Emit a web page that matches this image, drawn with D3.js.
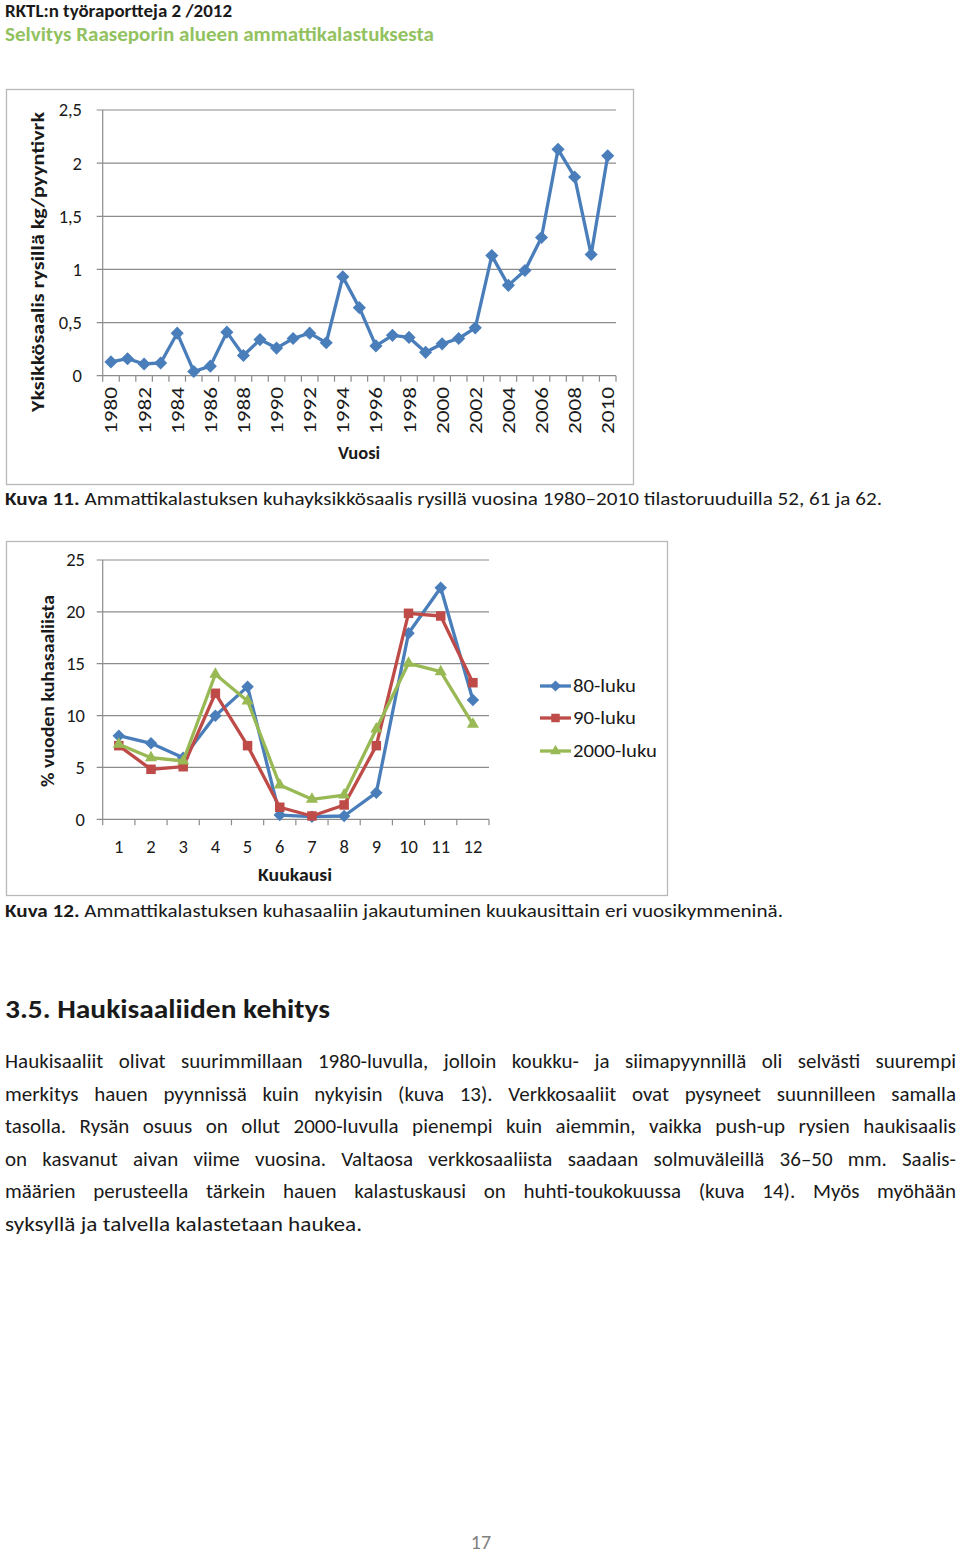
<!DOCTYPE html>
<html><head><meta charset="utf-8">
<script src="https://cdn.jsdelivr.net/npm/d3@7"></script>
<style>
body{margin:0;background:#fff;}
svg{display:block;font-family:Carlito,Calibri,Lato,"Open Sans",sans-serif;}
</style></head>
<body>
<svg id="page" width="960" height="1556"></svg>
<script>
// ---- Data ----
const years = [1980,1981,1982,1983,1984,1985,1986,1987,1988,1989,1990,1991,1992,1993,1994,1995,1996,1997,1998,1999,2000,2001,2002,2003,2004,2005,2006,2007,2008,2009,2010];
const cpue = [0.13,0.16,0.11,0.12,0.40,0.04,0.09,0.41,0.19,0.34,0.26,0.35,0.40,0.31,0.93,0.64,0.28,0.38,0.36,0.22,0.30,0.35,0.45,1.13,0.85,0.99,1.30,2.13,1.87,1.14,2.07];
const yearLabels = [1980,1982,1984,1986,1988,1990,1992,1994,1996,1998,2000,2002,2004,2006,2008,2010];
const cpueTicks = [0,0.5,1,1.5,2,2.5];

const months = [1,2,3,4,5,6,7,8,9,10,11,12];
const decadeNames = ["80-luku","90-luku","2000-luku"];
const share80 = [8.06,7.33,5.94,9.99,12.79,0.41,0.25,0.32,2.57,17.94,22.33,11.5];
const share90 = [7.10,4.82,5.07,12.15,7.10,1.16,0.32,1.38,7.10,19.86,19.6,13.17];
const share00 = [7.23,5.94,5.62,13.98,11.41,3.31,1.93,2.34,8.71,15.04,14.23,9.16];
const shareTicks = [0,5,10,15,20,25];

const paragraph = [
 "Haukisaaliit olivat suurimmillaan 1980-luvulla, jolloin koukku- ja siimapyynnillä oli selvästi suurempi",
 "merkitys hauen pyynnissä kuin nykyisin (kuva 13). Verkkosaaliit ovat pysyneet suunnilleen samalla",
 "tasolla. Rysän osuus on ollut 2000-luvulla pienempi kuin aiemmin, vaikka push-up rysien haukisaalis",
 "on kasvanut aivan viime vuosina. Valtaosa verkkosaaliista saadaan solmuväleillä 36–50 mm. Saalis-",
 "määrien perusteella tärkein hauen kalastuskausi on huhti-toukokuussa (kuva 14). Myös myöhään",
 "syksyllä ja talvella kalastetaan haukea."
];

// ---- Styles ----
const BLUE="#4A7EBB", RED="#BE4B48", GREEN="#98B954", GRID="#8c8c8c", FRAME="#b8b8b8", TXT="#1a1a1a";
const loc = d3.formatLocale({decimal:",",thousands:" ",grouping:[3],currency:["","€"]});
const fmt = loc.format("~g");

const svg = d3.select("#page");

// header
svg.append("text").attr("x",5).attr("y",17).attr("font-size",17).attr("font-weight","bold").attr("fill",TXT)
  .attr("textLength",227).attr("lengthAdjust","spacingAndGlyphs").text("RKTL:n työraportteja 2 /2012");
svg.append("text").attr("x",5).attr("y",41).attr("font-size",19.5).attr("font-weight","bold").attr("fill","#92C25F")
  .attr("textLength",429).attr("lengthAdjust","spacingAndGlyphs").text("Selvitys Raaseporin alueen ammattikalastuksesta");

function drawAxes(g, x, y, ticks, x0, x1, y0) {
  g.selectAll(".grid").data(ticks).join("line")
    .attr("x1",x0-6).attr("x2",x1).attr("y1",d=>y(d)).attr("y2",d=>y(d))
    .attr("stroke",GRID).attr("stroke-width",1.2);
  g.append("line").attr("x1",x0).attr("x2",x0).attr("y1",y(ticks[ticks.length-1])).attr("y2",y0)
    .attr("stroke",GRID).attr("stroke-width",1.2);
  const bounds = x.domain().map(d=>x(d)).concat([x.range()[1]]);
  g.selectAll(".xt").data(bounds).join("line")
    .attr("x1",d=>d).attr("x2",d=>d).attr("y1",y0).attr("y2",y0+6)
    .attr("stroke",GRID).attr("stroke-width",1.2);
}

// ---------- Chart 1 ----------
svg.append("rect").attr("x",6.5).attr("y",89.5).attr("width",627).attr("height",395)
  .attr("fill","none").attr("stroke",FRAME).attr("stroke-width",1.3);
const c1 = svg.append("g");
const x1 = d3.scaleBand().domain(years).range([102.7,616]);
const y1 = d3.scaleLinear().domain([0,2.5]).range([375.7,110]);
drawAxes(c1, x1, y1, cpueTicks, 102.7, 616, 375.7);
c1.selectAll(".yl").data(cpueTicks).join("text")
  .attr("x",82).attr("y",d=>y1(d)).attr("dy","0.35em").attr("text-anchor","end")
  .attr("font-size",18.5).attr("fill",TXT).text(d=>fmt(d));
c1.selectAll(".xl").data(yearLabels).join("text")
  .attr("transform",d=>`translate(${x1(d)+x1.bandwidth()/2},387) rotate(-90)`)
  .attr("dy","0.35em").attr("text-anchor","end").attr("font-size",18.5).attr("fill",TXT)
  .attr("textLength",47).attr("lengthAdjust","spacingAndGlyphs").text(d=>d);
c1.append("text").attr("x",359).attr("y",459).attr("text-anchor","middle").attr("font-size",18.5)
  .attr("font-weight","bold").attr("fill",TXT).text("Vuosi");
c1.append("text").attr("transform","translate(38,262) rotate(-90)").attr("dy","0.35em")
  .attr("text-anchor","middle").attr("font-size",18.5).attr("font-weight","bold").attr("fill",TXT)
  .attr("textLength",300).attr("lengthAdjust","spacingAndGlyphs").text("Yksikkösaalis rysillä kg/pyyntivrk");
const line1 = d3.line().x((d,i)=>x1(years[i])+x1.bandwidth()/2).y(d=>y1(d));
c1.append("path").datum(cpue).attr("d",line1).attr("fill","none").attr("stroke",BLUE)
  .attr("stroke-width",3.3).attr("stroke-linejoin","round");
c1.selectAll(".m").data(cpue).join("path")
  .attr("transform",(d,i)=>`translate(${x1(years[i])+x1.bandwidth()/2},${y1(d)})`)
  .attr("d",d3.symbol(d3.symbolDiamond2,110)).attr("fill",BLUE).attr("stroke","none");

// caption 1
const cap1 = svg.append("text").attr("x",5).attr("y",505).attr("font-size",18.5).attr("fill",TXT)
  .attr("textLength",877).attr("lengthAdjust","spacingAndGlyphs");
cap1.append("tspan").attr("font-weight","bold").text("Kuva 11.");
cap1.append("tspan").text(" Ammattikalastuksen kuhayksikkösaalis rysillä vuosina 1980–2010 tilastoruuduilla 52, 61 ja 62.");

// ---------- Chart 2 ----------
svg.append("rect").attr("x",6.5).attr("y",541.5).attr("width",661).attr("height",354)
  .attr("fill","none").attr("stroke",FRAME).attr("stroke-width",1.3);
const c2 = svg.append("g");
const x2 = d3.scaleBand().domain(months).range([102.7,489]);
const y2 = d3.scaleLinear().domain([0,25]).range([819.3,560]);
drawAxes(c2, x2, y2, shareTicks, 102.7, 489, 819.3);
c2.selectAll(".yl").data(shareTicks).join("text")
  .attr("x",85).attr("y",d=>y2(d)).attr("dy","0.35em").attr("text-anchor","end")
  .attr("font-size",18.5).attr("fill",TXT).text(d=>fmt(d));
c2.selectAll(".xl").data(months).join("text")
  .attr("x",d=>x2(d)+x2.bandwidth()/2).attr("y",853).attr("text-anchor","middle")
  .attr("font-size",18.5).attr("fill",TXT).text(d=>d);
c2.append("text").attr("x",295).attr("y",881).attr("text-anchor","middle").attr("font-size",18.5)
  .attr("font-weight","bold").attr("fill",TXT).attr("textLength",74).attr("lengthAdjust","spacingAndGlyphs").text("Kuukausi");
c2.append("text").attr("transform","translate(48,691) rotate(-90)").attr("dy","0.35em")
  .attr("text-anchor","middle").attr("font-size",18.5).attr("font-weight","bold").attr("fill",TXT)
  .attr("textLength",192).attr("lengthAdjust","spacingAndGlyphs").text("% vuoden kuhasaaliista");

const series = [
  {name:decadeNames[0], values:share80, color:BLUE, sym:d3.symbolDiamond2, size:100},
  {name:decadeNames[1], values:share90, color:RED, sym:d3.symbolSquare2, size:115},
  {name:decadeNames[2], values:share00, color:GREEN, sym:d3.symbolTriangle2, size:105}
];
const line2 = d3.line().x((d,i)=>x2(months[i])+x2.bandwidth()/2).y(d=>y2(d));
series.forEach(s=>{
  c2.append("path").datum(s.values).attr("d",line2).attr("fill","none").attr("stroke",s.color)
    .attr("stroke-width",3.3).attr("stroke-linejoin","round");
  c2.selectAll(null).data(s.values).join("path")
    .attr("transform",(d,i)=>`translate(${x2(months[i])+x2.bandwidth()/2},${y2(d)})`)
    .attr("d",d3.symbol(s.sym,s.size)).attr("fill",s.color);
});
// legend
const legY = [686,718,751];
series.forEach((s,i)=>{
  const lg = c2.append("g").attr("transform",`translate(540,${legY[i]})`);
  lg.append("line").attr("x1",0).attr("x2",31).attr("stroke",s.color).attr("stroke-width",3.3);
  lg.append("path").attr("transform","translate(15.5,0)").attr("d",d3.symbol(s.sym,s.size*0.8)).attr("fill",s.color);
  lg.append("text").attr("x",33).attr("dy","0.35em").attr("font-size",18.5).attr("fill",TXT)
    .attr("textLength",[63,63,84][i]).attr("lengthAdjust","spacingAndGlyphs").text(s.name);
});

// caption 2
const cap2 = svg.append("text").attr("x",5).attr("y",917).attr("font-size",18.5).attr("fill",TXT)
  .attr("textLength",778).attr("lengthAdjust","spacingAndGlyphs");
cap2.append("tspan").attr("font-weight","bold").text("Kuva 12.");
cap2.append("tspan").text(" Ammattikalastuksen kuhasaaliin jakautuminen kuukausittain eri vuosikymmeninä.");

// heading
svg.append("text").attr("x",5).attr("y",1018).attr("font-size",26).attr("font-weight","bold").attr("fill",TXT)
  .attr("textLength",325).attr("lengthAdjust","spacingAndGlyphs").text("3.5. Haukisaaliiden kehitys");

// paragraph (justified)
const pBase = [1068,1101,1133,1166,1198,1231];
paragraph.forEach((ln,i)=>{
  const t = svg.append("text").attr("x",5).attr("y",pBase[i]).attr("font-size",21).attr("fill",TXT).text(ln);
  if (i < paragraph.length-1) {
    const w = t.node().getComputedTextLength();
    const target = 951;
    const spaces = (ln.match(/ /g)||[]).length;
    const ws = (target - w)/spaces;
    if (ws >= 0) t.attr("word-spacing", ws);
    else t.attr("textLength",target).attr("lengthAdjust","spacingAndGlyphs");
  } else {
    t.attr("textLength",357).attr("lengthAdjust","spacingAndGlyphs");
  }
});

// page number
svg.append("text").attr("x",481).attr("y",1549).attr("text-anchor","middle").attr("font-size",20)
  .attr("fill","#7f7f7f").text("17");
</script>
</body></html>
